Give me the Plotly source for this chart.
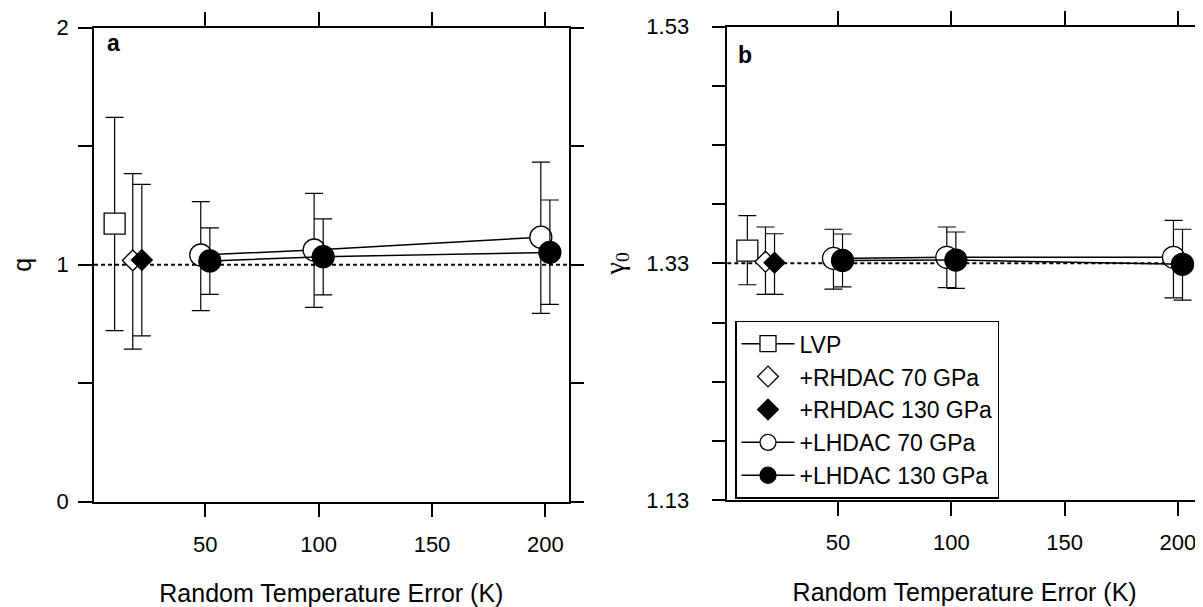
import plotly.graph_objects as go

# ---------------- data ----------------
# x positions (Random temperature error, K) as plotted (small offsets separate the series)
x_lvp = [10]
x_rh70 = [18]
x_rh130 = [22]
x_lh70 = [48, 98, 198]
x_lh130 = [52, 102, 202]

# panel a : q
q_lvp, q_lvp_hi, q_lvp_lo = [1.173], [1.622], [0.722]
q_rh70, q_rh70_hi, q_rh70_lo = [1.018], [1.384], [0.644]
q_rh130, q_rh130_hi, q_rh130_lo = [1.020], [1.339], [0.700]
q_lh70 = [1.041, 1.062, 1.116]
q_lh70_hi = [1.266, 1.301, 1.433]
q_lh70_lo = [0.806, 0.820, 0.795]
q_lh130 = [1.016, 1.034, 1.052]
q_lh130_hi = [1.155, 1.193, 1.273]
q_lh130_lo = [0.875, 0.873, 0.833]

# panel b : gamma0
g_lvp, g_lvp_hi, g_lvp_lo = [1.3408], [1.3703], [1.3119]
g_rh70, g_rh70_hi, g_rh70_lo = [1.3314], [1.3607], [1.3038]
g_rh130, g_rh130_hi, g_rh130_lo = [1.3305], [1.3550], [1.3038]
g_lh70 = [1.3342, 1.3351, 1.3351]
g_lh70_hi = [1.3588, 1.3607, 1.3664]
g_lh70_lo = [1.3083, 1.3094, 1.3009]
g_lh130 = [1.3325, 1.3328, 1.3292]
g_lh130_hi = [1.3548, 1.3565, 1.3588]
g_lh130_lo = [1.3102, 1.3089, 1.2990]

q_true = 1.0
g_true = 1.33

x_tickvals = [50, 100, 150, 200]
x_ticktext = ["50", "100", "150", "200"]
qa_tickvals = [0, 1, 2]
qa_ticktext = ["0", "1", "2"]
qa_minorvals = [0.5, 1.5]
gb_tickvals = [1.13, 1.33, 1.53]
gb_ticktext = ["1.13", "1.33", "1.53"]
gb_minorvals = [1.18, 1.23, 1.28, 1.38, 1.43, 1.48]

series_names = ["LVP", "+RHDAC 70 GPa", "+RHDAC 130 GPa", "+LHDAC 70 GPa", "+LHDAC 130 GPa"]

# ---------------- figure ----------------
W, H = 1203, 607
OFF = 8  # page body margin offset of the plot div
FONT = "Liberation Sans, Arial, Helvetica, sans-serif"
fig = go.Figure()


def px_x(p):
    return (p - OFF) / W


def px_y(p):
    return 1 - (p - OFF) / H


def err(y, hi, lo):
    return dict(type="data", symmetric=False,
                array=[h - v for h, v in zip(hi, y)],
                arrayminus=[v - l for v, l in zip(y, lo)],
                color="black", thickness=1.2, width=9)


def add_panel(xa, ya, data, showlegend):
    styles = [
        dict(mode="lines+markers", symbol="square", fill="white", size=21),
        dict(mode="markers", symbol="diamond", fill="white", size=16),
        dict(mode="markers", symbol="diamond", fill="black", size=16),
        dict(mode="lines+markers", symbol="circle", fill="white", size=22),
        dict(mode="lines+markers", symbol="circle", fill="black", size=22),
    ]
    for name, (x, y, hi, lo), st in zip(series_names, data, styles):
        fig.add_trace(go.Scatter(
            x=x, y=y, name=name, mode=st["mode"], xaxis=xa, yaxis=ya,
            showlegend=showlegend,
            line=dict(color="black", width=1.5),
            marker=dict(symbol=st["symbol"], size=st["size"], color=st["fill"],
                        line=dict(color="black", width=1.3)),
            error_y=err(y, hi, lo),
        ))


add_panel("x", "y", [
    (x_lvp, q_lvp, q_lvp_hi, q_lvp_lo),
    (x_rh70, q_rh70, q_rh70_hi, q_rh70_lo),
    (x_rh130, q_rh130, q_rh130_hi, q_rh130_lo),
    (x_lh70, q_lh70, q_lh70_hi, q_lh70_lo),
    (x_lh130, q_lh130, q_lh130_hi, q_lh130_lo),
], False)

add_panel("x2", "y2", [
    (x_lvp, g_lvp, g_lvp_hi, g_lvp_lo),
    (x_rh70, g_rh70, g_rh70_hi, g_rh70_lo),
    (x_rh130, g_rh130, g_rh130_hi, g_rh130_lo),
    (x_lh70, g_lh70, g_lh70_hi, g_lh70_lo),
    (x_lh130, g_lh130, g_lh130_hi, g_lh130_lo),
], True)

# dashed reference lines (true values)
for xr, yr, yv in [("x domain", "y", q_true), ("x2 domain", "y2", g_true)]:
    fig.add_shape(type="line", xref=xr, yref=yr, x0=0, x1=1, y0=yv, y1=yv,
                  line=dict(color="black", width=2, dash="4px,3px"), layer="below")

axis_common = dict(showline=True, linecolor="black", linewidth=1.5, mirror="ticks",
                   ticks="outside", ticklen=14, tickwidth=1.5, tickcolor="black",
                   showgrid=False, zeroline=False, automargin=False,
                   tickfont=dict(family=FONT, size=22, color="black"))


def minor(vals):
    return dict(tickmode="array", tickvals=vals, ticks="outside", ticklen=14,
                tickwidth=1.5, tickcolor="black", showgrid=False)


xtitle = dict(text="Random Temperature Error (K)", font=dict(family=FONT, size=25, color="black"),
              standoff=29)

fig.update_layout(
    width=W, height=H,
    margin=dict(l=0, r=0, t=0, b=0),
    paper_bgcolor="white", plot_bgcolor="white",
    font=dict(family=FONT, size=22, color="black"),
    xaxis=dict(domain=[px_x(94), px_x(568.7)], range=[0.9, 210.3], tickvals=x_tickvals,
               ticktext=x_ticktext, ticklabelstandoff=8, title=xtitle, anchor="y", **axis_common),
    yaxis=dict(domain=[px_y(501.7), px_y(27.7)], range=[0, 2], tickvals=qa_tickvals,
               ticktext=qa_ticktext, minor=minor(qa_minorvals), ticklabelstandoff=5, anchor="x",
               title=dict(text="q", font=dict(family=FONT, size=25, color="black"), standoff=26),
               **axis_common),
    xaxis2=dict(domain=[px_x(727.3), px_x(1202)], range=[1.16, 210.6], tickvals=x_tickvals,
                ticktext=x_ticktext, ticklabelstandoff=8, title=xtitle, anchor="y2", **axis_common),
    yaxis2=dict(domain=[px_y(500), px_y(26.7)], range=[1.13, 1.53], tickvals=gb_tickvals,
                ticktext=gb_ticktext, minor=minor(gb_minorvals), ticklabelstandoff=18, anchor="x2",
                title=dict(text="γ<sub>0</sub>", font=dict(family="Liberation Serif, Times New Roman, serif", size=28, color="black"), standoff=14),
                **axis_common),
    legend=dict(x=px_x(735), y=px_y(320.7), xanchor="left", yanchor="top",
                bordercolor="black", borderwidth=1.5, bgcolor="white", itemwidth=53,
                font=dict(family=FONT, size=23, color="black"), tracegroupgap=0),
    annotations=[
        dict(text="<b>a</b>", x=px_x(113.5), y=px_y(43), xref="paper", yref="paper",
             showarrow=False, xanchor="center", yanchor="middle",
             font=dict(family=FONT, size=23, color="black")),
        dict(text="<b>b</b>", x=px_x(745), y=px_y(55), xref="paper", yref="paper",
             showarrow=False, xanchor="center", yanchor="middle",
             font=dict(family=FONT, size=23, color="black")),
    ],
)

fig.write_html("out.html")
